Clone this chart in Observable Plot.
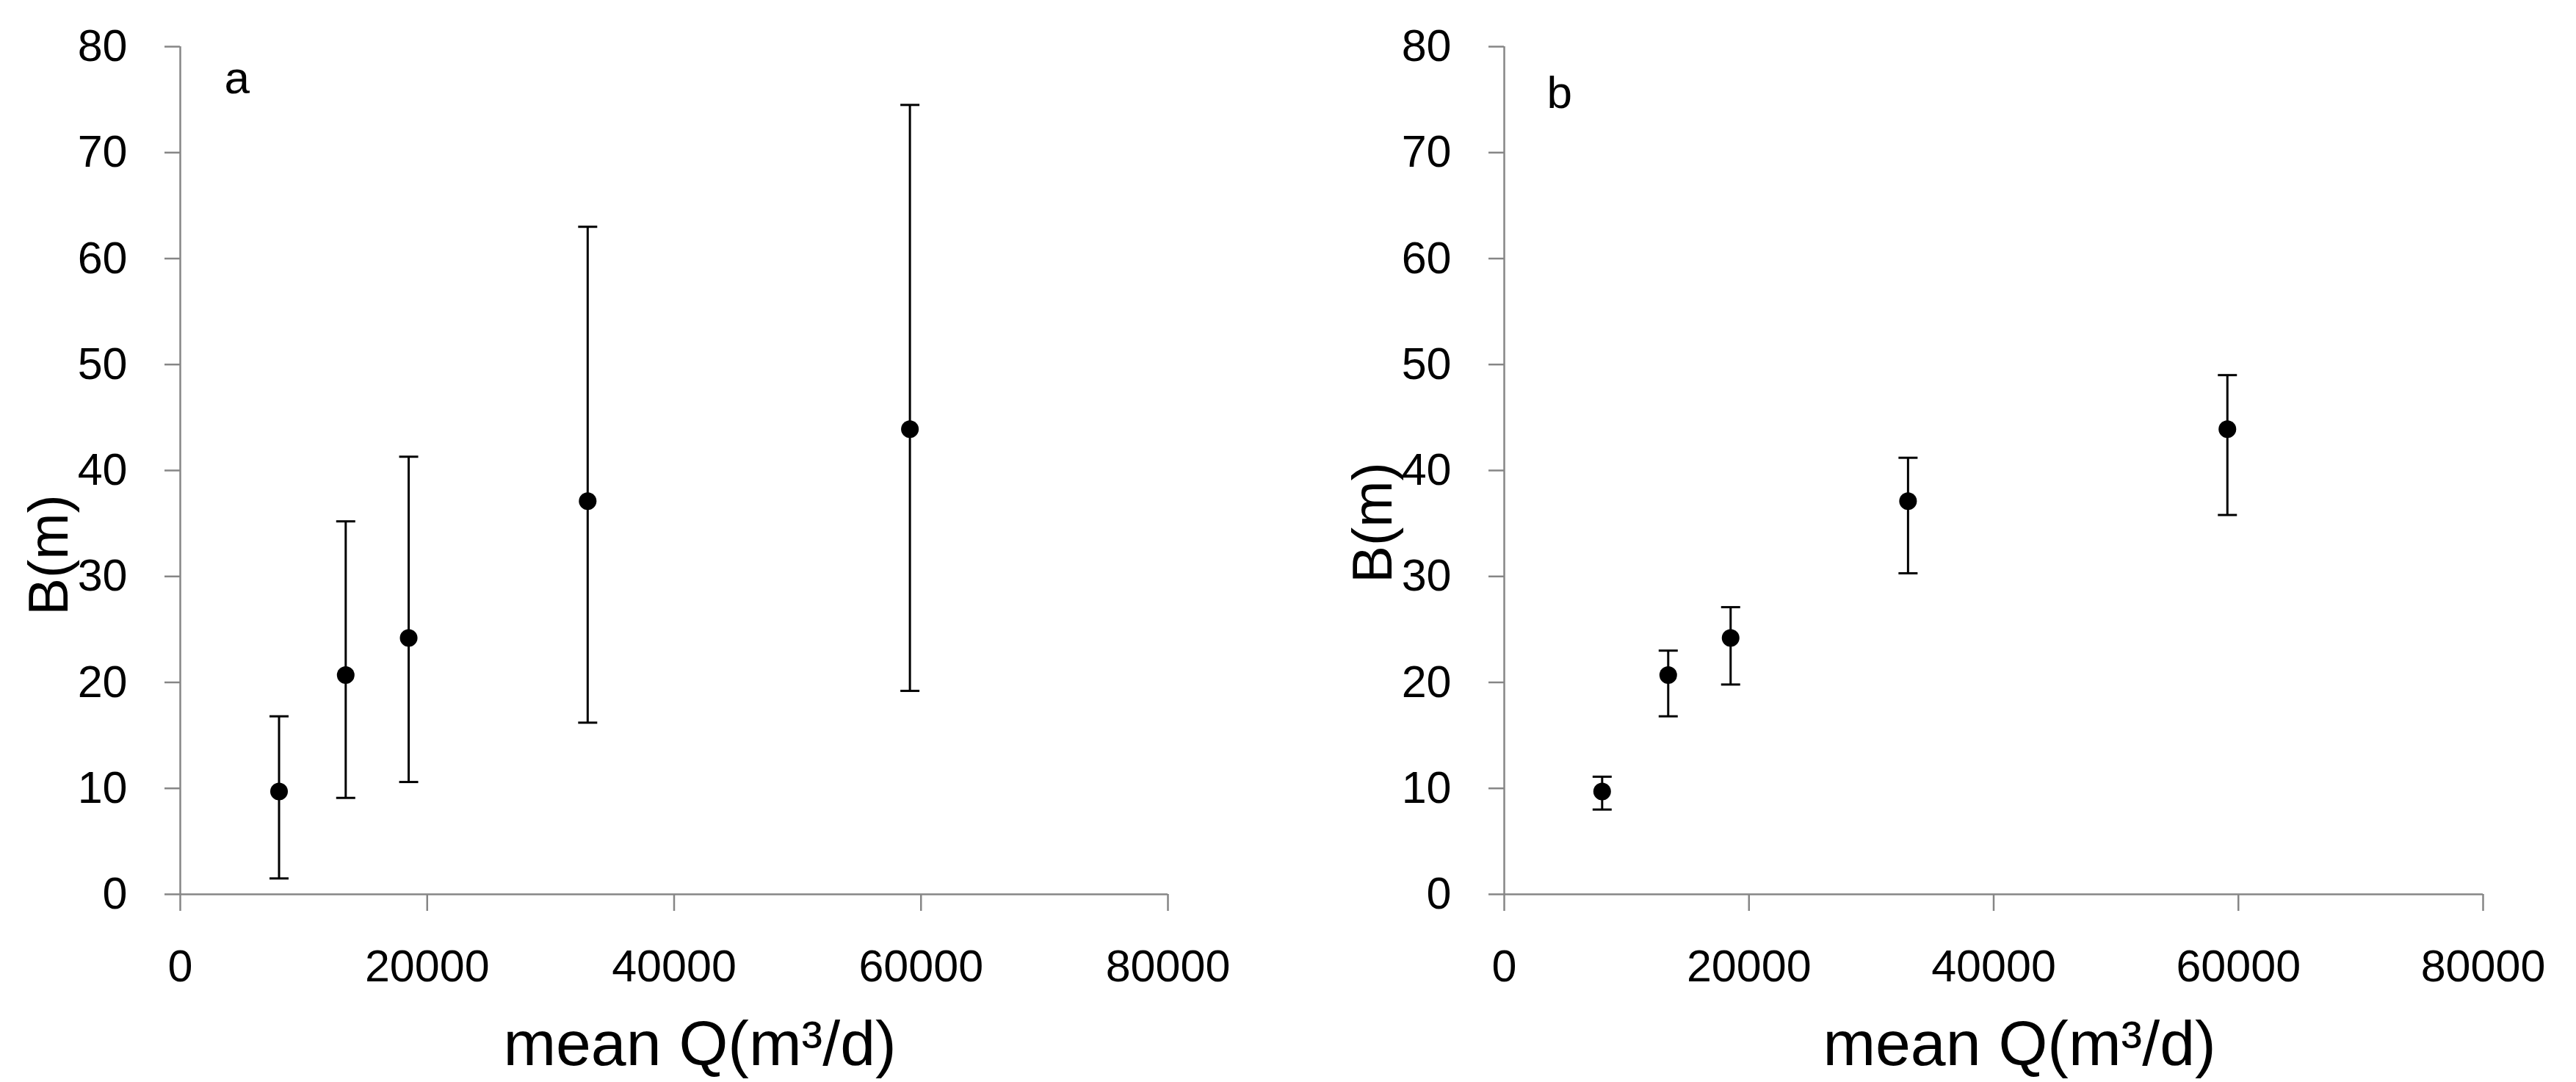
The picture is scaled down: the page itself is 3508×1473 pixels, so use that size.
<!DOCTYPE html>
<html>
<head>
<meta charset="utf-8">
<script src="https://cdn.jsdelivr.net/npm/d3@7"></script>
<script src="https://cdn.jsdelivr.net/npm/@observablehq/plot@0.6"></script>
<style>
  html, body { margin: 0; padding: 0; background: #fff; }
  #wrap { display: flex; width: 3508px; height: 1473px; background: #fff; }
  #wrap svg { display: block; }
  g[aria-label$="tick label"] { fill: #000; }
</style>
</head>
<body>
<div id="wrap"></div>
<script>
// ---- data ----
const meanQ = [8000, 13400, 18500, 33000, 59100];        // mean Q (m3/d)
const meanB = [9.7, 20.7, 24.2, 37.1, 43.9];              // B (m)
const lowA  = [1.5, 9.1, 10.6, 16.2, 19.2];               // panel a lower bound
const highA = [16.8, 35.2, 41.3, 63.0, 74.5];             // panel a upper bound
const lowB  = [8.0, 16.8, 19.8, 30.3, 35.8];              // panel b lower bound
const highB = [11.1, 23.0, 27.1, 41.2, 49.0];             // panel b upper bound
const xTicks = [0, 20000, 40000, 60000, 80000];
const yTicks = [0, 10, 20, 30, 40, 50, 60, 70, 80];
const panelLabels = ["a", "b"];
const xTitle = "mean Q(m³/d)";
const yTitle = "B(m)";

const GRAY = "#868686";
const FONT = "'Liberation Sans', Arial, sans-serif";

const capSymbol = {
  draw(ctx, size) {
    const w = Math.sqrt(size / Math.PI);
    ctx.moveTo(-w, 0);
    ctx.lineTo(w, 0);
  }
};

function makePanel(lows, highs, label, m) {
  const rows = meanQ.map((q, i) => ({q, b: meanB[i], lo: lows[i], hi: highs[i]}));
  return Plot.plot({
    width: 1754,
    height: 1473,
    marginLeft: m.left,
    marginRight: m.right,
    marginTop: 63,
    marginBottom: 256,
    style: {fontFamily: FONT, background: "#fff", color: "#000", overflow: "visible"},
    x: {domain: [0, 80000]},
    y: {domain: [0, 80]},
    marks: [
      Plot.axisX({
        ticks: xTicks, tickSize: 23, tickPadding: 52, fontSize: 61,
        tickFormat: d3.format("d"), stroke: GRAY, strokeWidth: 2.5, fill: "#000",
        label: null
      }),
      Plot.axisY({
        ticks: yTicks, tickSize: 21, tickPadding: 51, fontSize: 61,
        tickFormat: d3.format("d"), stroke: GRAY, strokeWidth: 2.5, fill: "#000",
        label: null
      }),
      Plot.ruleX([0], {stroke: GRAY, strokeWidth: 2.5}),
      Plot.ruleY([0], {stroke: GRAY, strokeWidth: 2.5}),
      Plot.ruleX(rows, {x: "q", y1: "lo", y2: "hi", stroke: "#000", strokeWidth: 3}),
      Plot.dot(rows, {x: "q", y: "lo", symbol: capSymbol, r: 13, stroke: "#000", strokeWidth: 3, fill: "none"}),
      Plot.dot(rows, {x: "q", y: "hi", symbol: capSymbol, r: 13, stroke: "#000", strokeWidth: 3, fill: "none"}),
      Plot.dot(rows, {x: "q", y: "b", r: 12, fill: "#000", stroke: "none"}),
      Plot.text([label], {
        text: d => d, frameAnchor: "top-left", textAnchor: "start", lineAnchor: "top",
        dx: m.labelDx, dy: m.labelDy, fontSize: 62, fill: "#000"
      }),
      Plot.text([xTitle], {
        text: d => d, frameAnchor: "bottom", textAnchor: "middle", lineAnchor: "middle",
        dx: 35, dy: 205, fontSize: 86, fill: "#000"
      }),
      Plot.text([yTitle], {
        text: d => d, frameAnchor: "left", textAnchor: "middle", lineAnchor: "middle",
        rotate: -90, dx: m.yTitleDx, dy: m.yTitleDy, fontSize: 76, fill: "#000"
      })
    ]
  });
}

const wrap = document.getElementById("wrap");
wrap.appendChild(makePanel(lowA, highA, panelLabels[0],
  {left: 245, right: 164, labelDx: 60, labelDy: 19, yTitleDx: -178, yTitleDy: 115}));
wrap.appendChild(makePanel(lowB, highB, panelLabels[1],
  {left: 294, right: 127, labelDx: 58, labelDy: 39, yTitleDx: -178, yTitleDy: 71}));
</script>
</body>
</html>
